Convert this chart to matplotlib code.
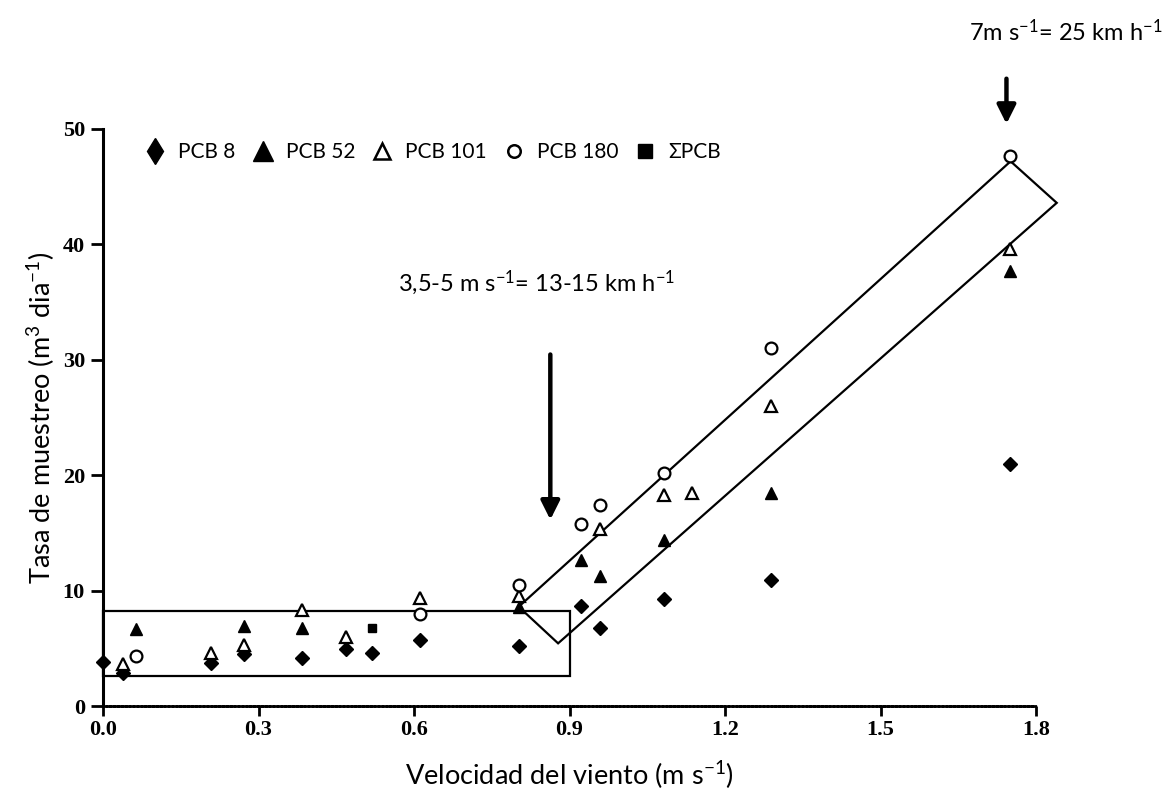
import matplotlib
matplotlib.use("Agg")
import matplotlib.pyplot as plt
from matplotlib.lines import Line2D
from matplotlib.patches import Rectangle, Polygon

plt.rcParams['font.family'] = ['Lato', 'DejaVu Sans']
plt.rcParams['mathtext.fontset'] = 'custom'
plt.rcParams['mathtext.rm'] = 'Lato'
plt.rcParams['mathtext.it'] = 'Lato:italic'

# PCB 8 (filled diamonds)
x_pcb8 = [0.0, 0.039, 0.208, 0.272, 0.384, 0.469, 0.519, 0.611, 0.802, 0.923, 0.959, 1.083, 1.288, 1.749]
y_pcb8 = [3.8, 2.9, 3.75, 4.5, 4.2, 4.9, 4.6, 5.7, 5.2, 8.7, 6.8, 9.3, 10.9, 21.0]

# PCB 52 (filled triangles)
x_pcb52 = [0.064, 0.272, 0.384, 0.802, 0.923, 0.959, 1.083, 1.288, 1.749]
y_pcb52 = [6.7, 6.9, 6.8, 8.6, 12.65, 11.3, 14.4, 18.5, 37.7]

# PCB 101 (open triangles)
x_pcb101 = [0.039, 0.208, 0.272, 0.384, 0.469, 0.611, 0.802, 0.959, 1.083, 1.137, 1.288, 1.749]
y_pcb101 = [3.6, 4.6, 5.3, 8.3, 5.95, 9.4, 9.5, 15.3, 18.3, 18.5, 26.0, 39.6]

# PCB 180 (open circles)
x_pcb180 = [0.064, 0.611, 0.802, 0.923, 0.959, 1.083, 1.288, 1.749]
y_pcb180 = [4.3, 7.95, 10.5, 15.8, 17.4, 20.2, 31.0, 47.7]

# sum PCB (filled squares)
x_sum = [0.519]
y_sum = [6.8]

xticks = [0.0, 0.3, 0.6, 0.9, 1.2, 1.5, 1.8]
yticks = [0, 10, 20, 30, 40, 50]

fig = plt.figure(figsize=(11.7, 7.96), dpi=100)
ax = fig.add_axes([103/1170, 1-706/796, (1036-103)/1170, (706-129)/796])

ax.plot(x_pcb8, y_pcb8, 'D', ms=7, color='black', clip_on=False)
ax.plot(x_pcb52, y_pcb52, '^', ms=9, color='black', clip_on=False)
ax.plot(x_pcb101, y_pcb101, '^', ms=8.5, mfc='white', mec='black', mew=1.6, clip_on=False)
ax.plot(x_pcb180, y_pcb180, 'o', ms=8.5, mfc='white', mec='black', mew=1.6, clip_on=False)
ax.plot(x_sum, y_sum, 's', ms=6, color='black', clip_on=False)

# boxes
ax.add_patch(Rectangle((0.0, 2.6), 0.9015, 5.65, fill=False, ec='black', lw=1.6, clip_on=False))
ax.add_patch(Polygon([(0.802, 8.6), (0.878, 5.43), (1.84, 43.6), (1.751, 47.2)],
                     closed=True, fill=False, ec='black', lw=1.6, clip_on=False))

# arrows and notes
ax.annotate('', xy=(0.863, 15.9), xytext=(0.863, 30.7),
            arrowprops=dict(arrowstyle='-|>', lw=3.2, color='black', mutation_scale=28),
            annotation_clip=False)
ax.annotate('', xy=(1.743, 50.2), xytext=(1.743, 54.6),
            arrowprops=dict(arrowstyle='-|>', lw=3.2, color='black', mutation_scale=28),
            annotation_clip=False)
ax.text(0.569, 36.65, r'3,5-5 m s$^{-1}$= 13-15 km h$^{-1}$', fontsize=17, va='center', ha='left')
ax.text(1.67, 58.4, r'7m s$^{-1}$= 25 km h$^{-1}$', fontsize=17, va='center', ha='left', clip_on=False)

# legend
handles = [
    Line2D([], [], marker='d', ms=13, color='black', ls='none'),
    Line2D([], [], marker='^', ms=14, color='black', ls='none'),
    Line2D([], [], marker='^', ms=12, mfc='white', mec='black', mew=1.8, ls='none'),
    Line2D([], [], marker='o', ms=9, mfc='white', mec='black', mew=1.8, ls='none'),
    Line2D([], [], marker='s', ms=10, color='black', ls='none'),
]
labels = ['PCB 8', 'PCB 52', 'PCB 101', 'PCB 180', 'ΣPCB']
ax.legend(handles, labels, loc='center left', bbox_to_anchor=(0.045, 0.96), ncol=5,
          frameon=False, fontsize=15, handlelength=1.0, handletextpad=0.6,
          columnspacing=0.8, borderpad=0, borderaxespad=0)

ax.set_xlim(0, 1.8)
ax.set_ylim(0, 50)
ax.set_xticks(xticks)
ax.set_yticks(yticks)
ax.set_xticklabels(['%.1f' % v for v in xticks], family='Liberation Serif', fontsize=16, weight='bold')
ax.set_yticklabels([str(v) for v in yticks], family='Liberation Serif', fontsize=16, weight='bold')
ax.tick_params(axis='y', direction='out', length=9, width=2, pad=4)
ax.tick_params(axis='x', direction='out', length=7, width=2, pad=3)

ax.spines['top'].set_visible(False)
ax.spines['right'].set_visible(False)
ax.spines['left'].set_linewidth(2.2)
ax.spines['bottom'].set_linewidth(2)
ax.spines['bottom'].set_linestyle((0, (1, 0.4)))

ax.set_xlabel(r'Velocidad del viento (m s$^{-1}$)', fontsize=19.5, labelpad=14)
ax.set_ylabel(r'Tasa de muestreo (m$^3$ dia$^{-1}$)', fontsize=19.5, labelpad=4)

fig.savefig('out.png', dpi=100, facecolor='white')
